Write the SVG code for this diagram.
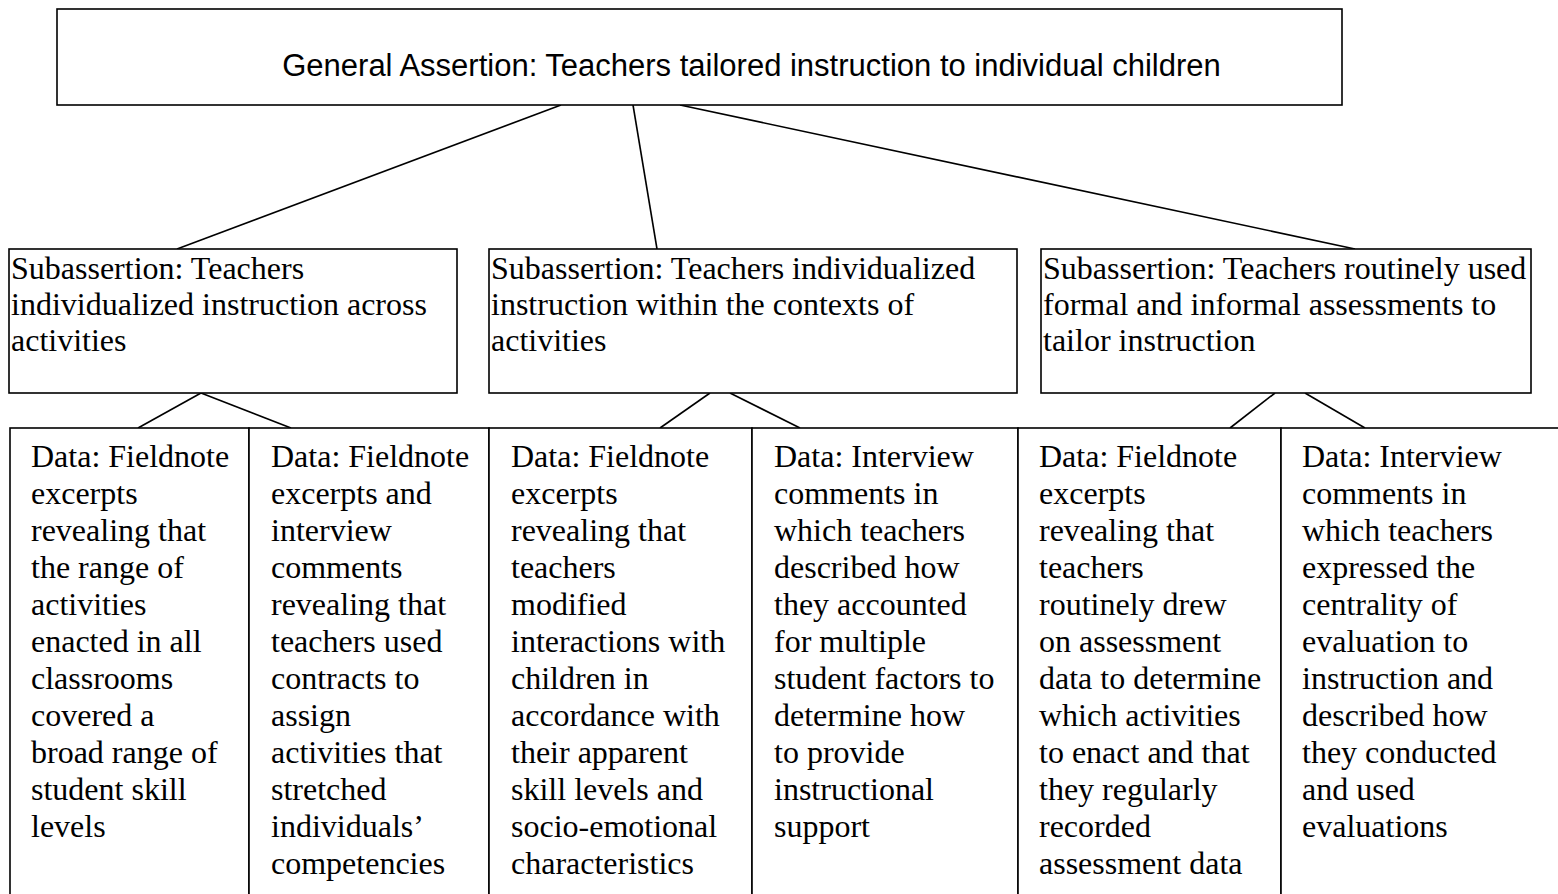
<svg xmlns="http://www.w3.org/2000/svg" width="1558" height="894" viewBox="0 0 1558 894">
<style>
.box{fill:#fff;stroke:#000;stroke-width:1.6}
.conn line{stroke:#000;stroke-width:1.6}
.sans{font-family:"Liberation Sans",Arial,sans-serif;font-size:31px;fill:#000}
.serif{font-family:"Liberation Serif","Times New Roman",serif;font-size:32px;fill:#000}
</style>
<rect width="1558" height="894" fill="#fff"/>
<g class="conn">
<line x1="561" y1="105" x2="177" y2="249"/>
<line x1="633" y1="105" x2="657" y2="249"/>
<line x1="680" y1="105" x2="1355" y2="249"/>
<line x1="201" y1="393" x2="138" y2="428"/>
<line x1="201" y1="393" x2="291" y2="428"/>
<line x1="710" y1="393" x2="660" y2="428"/>
<line x1="730" y1="393" x2="800" y2="428"/>
<line x1="1275" y1="393" x2="1230" y2="428"/>
<line x1="1305" y1="393" x2="1365" y2="428"/>
</g>
<g id="general">
<rect class="box" x="57" y="9" width="1285" height="96"/>
<text class="sans" x="751.5" y="76" text-anchor="middle">General Assertion: Teachers tailored instruction to individual children</text>
</g>
<g id="sub1">
<rect class="box" x="9" y="249" width="448" height="144"/>
<text class="serif" x="11" y="279">Subassertion: Teachers<tspan x="11" dy="36">individualized instruction across</tspan><tspan x="11" dy="36">activities</tspan></text>
</g>
<g id="sub2">
<rect class="box" x="489" y="249" width="528" height="144"/>
<text class="serif" x="491" y="279">Subassertion: Teachers individualized<tspan x="491" dy="36">instruction within the contexts of</tspan><tspan x="491" dy="36">activities</tspan></text>
</g>
<g id="sub3">
<rect class="box" x="1041" y="249" width="490" height="144"/>
<text class="serif" x="1043" y="279">Subassertion: Teachers routinely used<tspan x="1043" dy="36">formal and informal assessments to</tspan><tspan x="1043" dy="36">tailor instruction</tspan></text>
</g>
<g id="data1">
<rect class="box" x="10" y="428" width="239" height="480"/>
<text class="serif" x="31" y="467">Data: Fieldnote<tspan x="31" dy="37">excerpts</tspan><tspan x="31" dy="37">revealing that</tspan><tspan x="31" dy="37">the range of</tspan><tspan x="31" dy="37">activities</tspan><tspan x="31" dy="37">enacted in all</tspan><tspan x="31" dy="37">classrooms</tspan><tspan x="31" dy="37">covered a</tspan><tspan x="31" dy="37">broad range of</tspan><tspan x="31" dy="37">student skill</tspan><tspan x="31" dy="37">levels</tspan></text>
</g>
<g id="data2">
<rect class="box" x="249" y="428" width="240" height="480"/>
<text class="serif" x="271" y="467">Data: Fieldnote<tspan x="271" dy="37">excerpts and</tspan><tspan x="271" dy="37">interview</tspan><tspan x="271" dy="37">comments</tspan><tspan x="271" dy="37">revealing that</tspan><tspan x="271" dy="37">teachers used</tspan><tspan x="271" dy="37">contracts to</tspan><tspan x="271" dy="37">assign</tspan><tspan x="271" dy="37">activities that</tspan><tspan x="271" dy="37">stretched</tspan><tspan x="271" dy="37">individuals’</tspan><tspan x="271" dy="37">competencies</tspan></text>
</g>
<g id="data3">
<rect class="box" x="489" y="428" width="263" height="480"/>
<text class="serif" x="511" y="467">Data: Fieldnote<tspan x="511" dy="37">excerpts</tspan><tspan x="511" dy="37">revealing that</tspan><tspan x="511" dy="37">teachers</tspan><tspan x="511" dy="37">modified</tspan><tspan x="511" dy="37">interactions with</tspan><tspan x="511" dy="37">children in</tspan><tspan x="511" dy="37">accordance with</tspan><tspan x="511" dy="37">their apparent</tspan><tspan x="511" dy="37">skill levels and</tspan><tspan x="511" dy="37">socio-emotional</tspan><tspan x="511" dy="37">characteristics</tspan></text>
</g>
<g id="data4">
<rect class="box" x="752" y="428" width="266" height="480"/>
<text class="serif" x="774" y="467">Data: Interview<tspan x="774" dy="37">comments in</tspan><tspan x="774" dy="37">which teachers</tspan><tspan x="774" dy="37">described how</tspan><tspan x="774" dy="37">they accounted</tspan><tspan x="774" dy="37">for multiple</tspan><tspan x="774" dy="37">student factors to</tspan><tspan x="774" dy="37">determine how</tspan><tspan x="774" dy="37">to provide</tspan><tspan x="774" dy="37">instructional</tspan><tspan x="774" dy="37">support</tspan></text>
</g>
<g id="data5">
<rect class="box" x="1018" y="428" width="263" height="480"/>
<text class="serif" x="1039" y="467">Data: Fieldnote<tspan x="1039" dy="37">excerpts</tspan><tspan x="1039" dy="37">revealing that</tspan><tspan x="1039" dy="37">teachers</tspan><tspan x="1039" dy="37">routinely drew</tspan><tspan x="1039" dy="37">on assessment</tspan><tspan x="1039" dy="37">data to determine</tspan><tspan x="1039" dy="37">which activities</tspan><tspan x="1039" dy="37">to enact and that</tspan><tspan x="1039" dy="37">they regularly</tspan><tspan x="1039" dy="37">recorded</tspan><tspan x="1039" dy="37">assessment data</tspan></text>
</g>
<g id="data6">
<rect class="box" x="1281" y="428" width="290" height="480"/>
<text class="serif" x="1302" y="467">Data: Interview<tspan x="1302" dy="37">comments in</tspan><tspan x="1302" dy="37">which teachers</tspan><tspan x="1302" dy="37">expressed the</tspan><tspan x="1302" dy="37">centrality of</tspan><tspan x="1302" dy="37">evaluation to</tspan><tspan x="1302" dy="37">instruction and</tspan><tspan x="1302" dy="37">described how</tspan><tspan x="1302" dy="37">they conducted</tspan><tspan x="1302" dy="37">and used</tspan><tspan x="1302" dy="37">evaluations</tspan></text>
</g>
</svg>
